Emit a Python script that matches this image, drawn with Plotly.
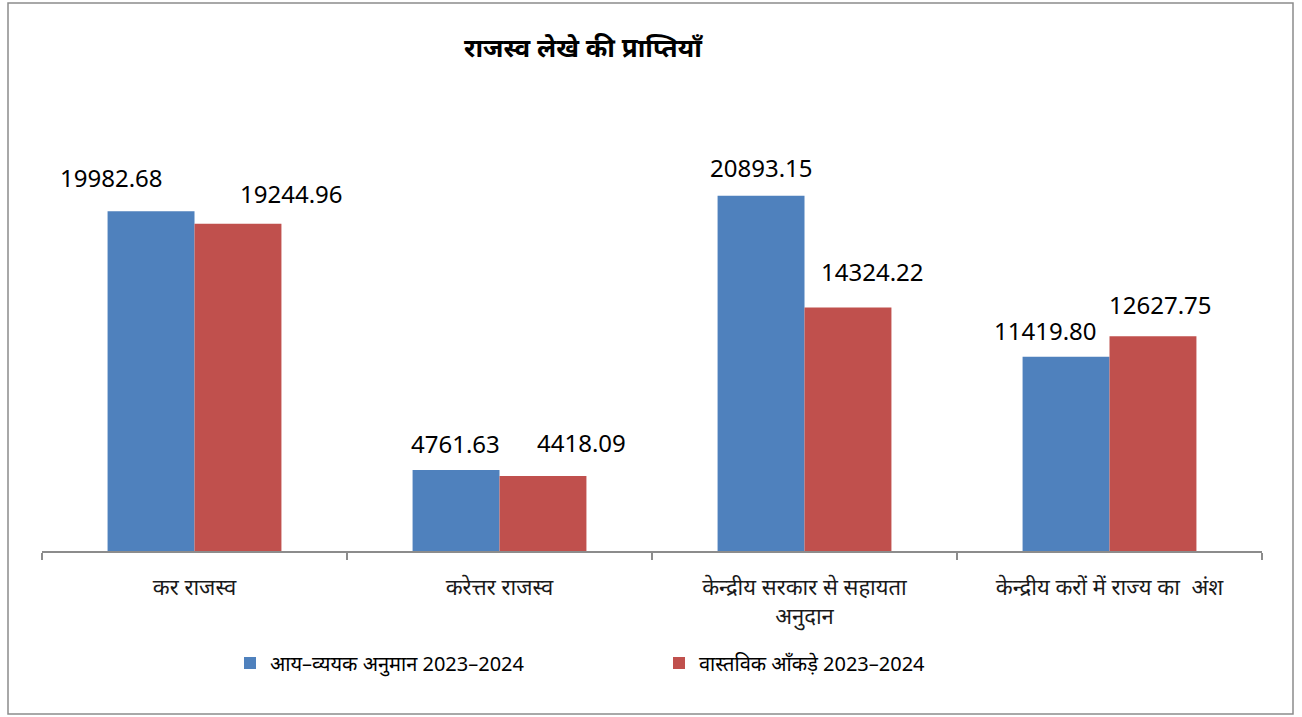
import plotly.graph_objects as go

categories = ["कर राजस्व", "करेत्तर राजस्व", "केन्द्रीय सरकार से सहायता<br>अनुदान", "केन्द्रीय करों में राज्य का  अंश"]
budget_name = "आय–व्ययक अनुमान 2023–2024"
actual_name = "वास्तविक आँकड़े 2023–2024"
budget_values = [19982.68, 4761.63, 20893.15, 11419.80]
actual_values = [19244.96, 4418.09, 14324.22, 12627.75]
title_text = "राजस्व लेखे की प्राप्तियाँ"

BLUE = "#4F81BD"
RED = "#C0504D"
FONT = "Noto Sans, Open Sans, sans-serif"

fig = go.Figure()
fig.add_trace(go.Bar(x=categories, y=budget_values, name=budget_name,
                     marker=dict(color=BLUE, line=dict(width=0))))
fig.add_trace(go.Bar(x=categories, y=actual_values, name=actual_name,
                     marker=dict(color=RED, line=dict(width=0))))

bargap = 0.43
half = (1 - bargap) / 4  # center offset of each bar in the group

# label offsets (pixels) to mimic reference placement
blue_dx = [-40, -1, 0, -21]
blue_dy = [34, 27, 28, 26]
red_dx = [54, 39, 25, 8]
red_dy = [30, 33, 36, 32]

annotations = []
for i, v in enumerate(budget_values):
    annotations.append(dict(x=i - half, y=v, xref="x", yref="y", text=f"{v:.2f}",
                            showarrow=False, xshift=blue_dx[i], yshift=blue_dy[i],
                            font=dict(family=FONT, size=24, color="#000000")))
for i, v in enumerate(actual_values):
    annotations.append(dict(x=i + half, y=v, xref="x", yref="y", text=f"{v:.2f}",
                            showarrow=False, xshift=red_dx[i], yshift=red_dy[i],
                            font=dict(family=FONT, size=24, color="#000000")))

annotations.append(dict(x=(582 - 40) / 1220, y=(551 - 47) / 425, xref="paper", yref="paper",
                        text=f"<b>{title_text}</b>", showarrow=False,
                        xanchor="center", yanchor="middle",
                        font=dict(family=FONT, size=26, color="#000000")))

# outer chart border
shapes = [dict(type="rect", xref="paper", yref="paper",
               x0=(8 - 42) / 1220, x1=(1293 - 42) / 1220,
               y0=(551 - 714) / 425, y1=(551 - 3) / 425,
               line=dict(color="#8C8C8C", width=1.5), fillcolor="rgba(0,0,0,0)", layer="below")]

fig.update_layout(
    width=1302, height=717,
    margin=dict(l=42, r=40, t=126, b=166),
    paper_bgcolor="white", plot_bgcolor="white",
    barmode="group", bargap=bargap, bargroupgap=0,
    showlegend=True,
    legend=dict(orientation="h", x=(230 - 42) / 1220, xanchor="left",
                y=(551 - 663) / 425, yanchor="middle",
                font=dict(family=FONT, size=20, color="#000000"),
                entrywidth=384, entrywidthmode="pixels", itemwidth=30,
                traceorder="normal"),
    annotations=annotations,
    shapes=shapes,
    font=dict(family=FONT),
)
fig.update_xaxes(showline=True, linecolor="#8C8C8C", linewidth=1.5,
                 ticks="outside", tickson="boundaries", ticklen=7, tickcolor="#8C8C8C",
                 tickwidth=1.5, tickfont=dict(family=FONT, size=22, color="#1a1a1a"),
                 ticklabelstandoff=16, showgrid=False)
fig.update_yaxes(range=[0, 25000], visible=False, showgrid=False)

fig.write_html("out.html", config={"displayModeBar": False},
               post_script="document.body.style.margin='0px';document.body.style.padding='0px';")
